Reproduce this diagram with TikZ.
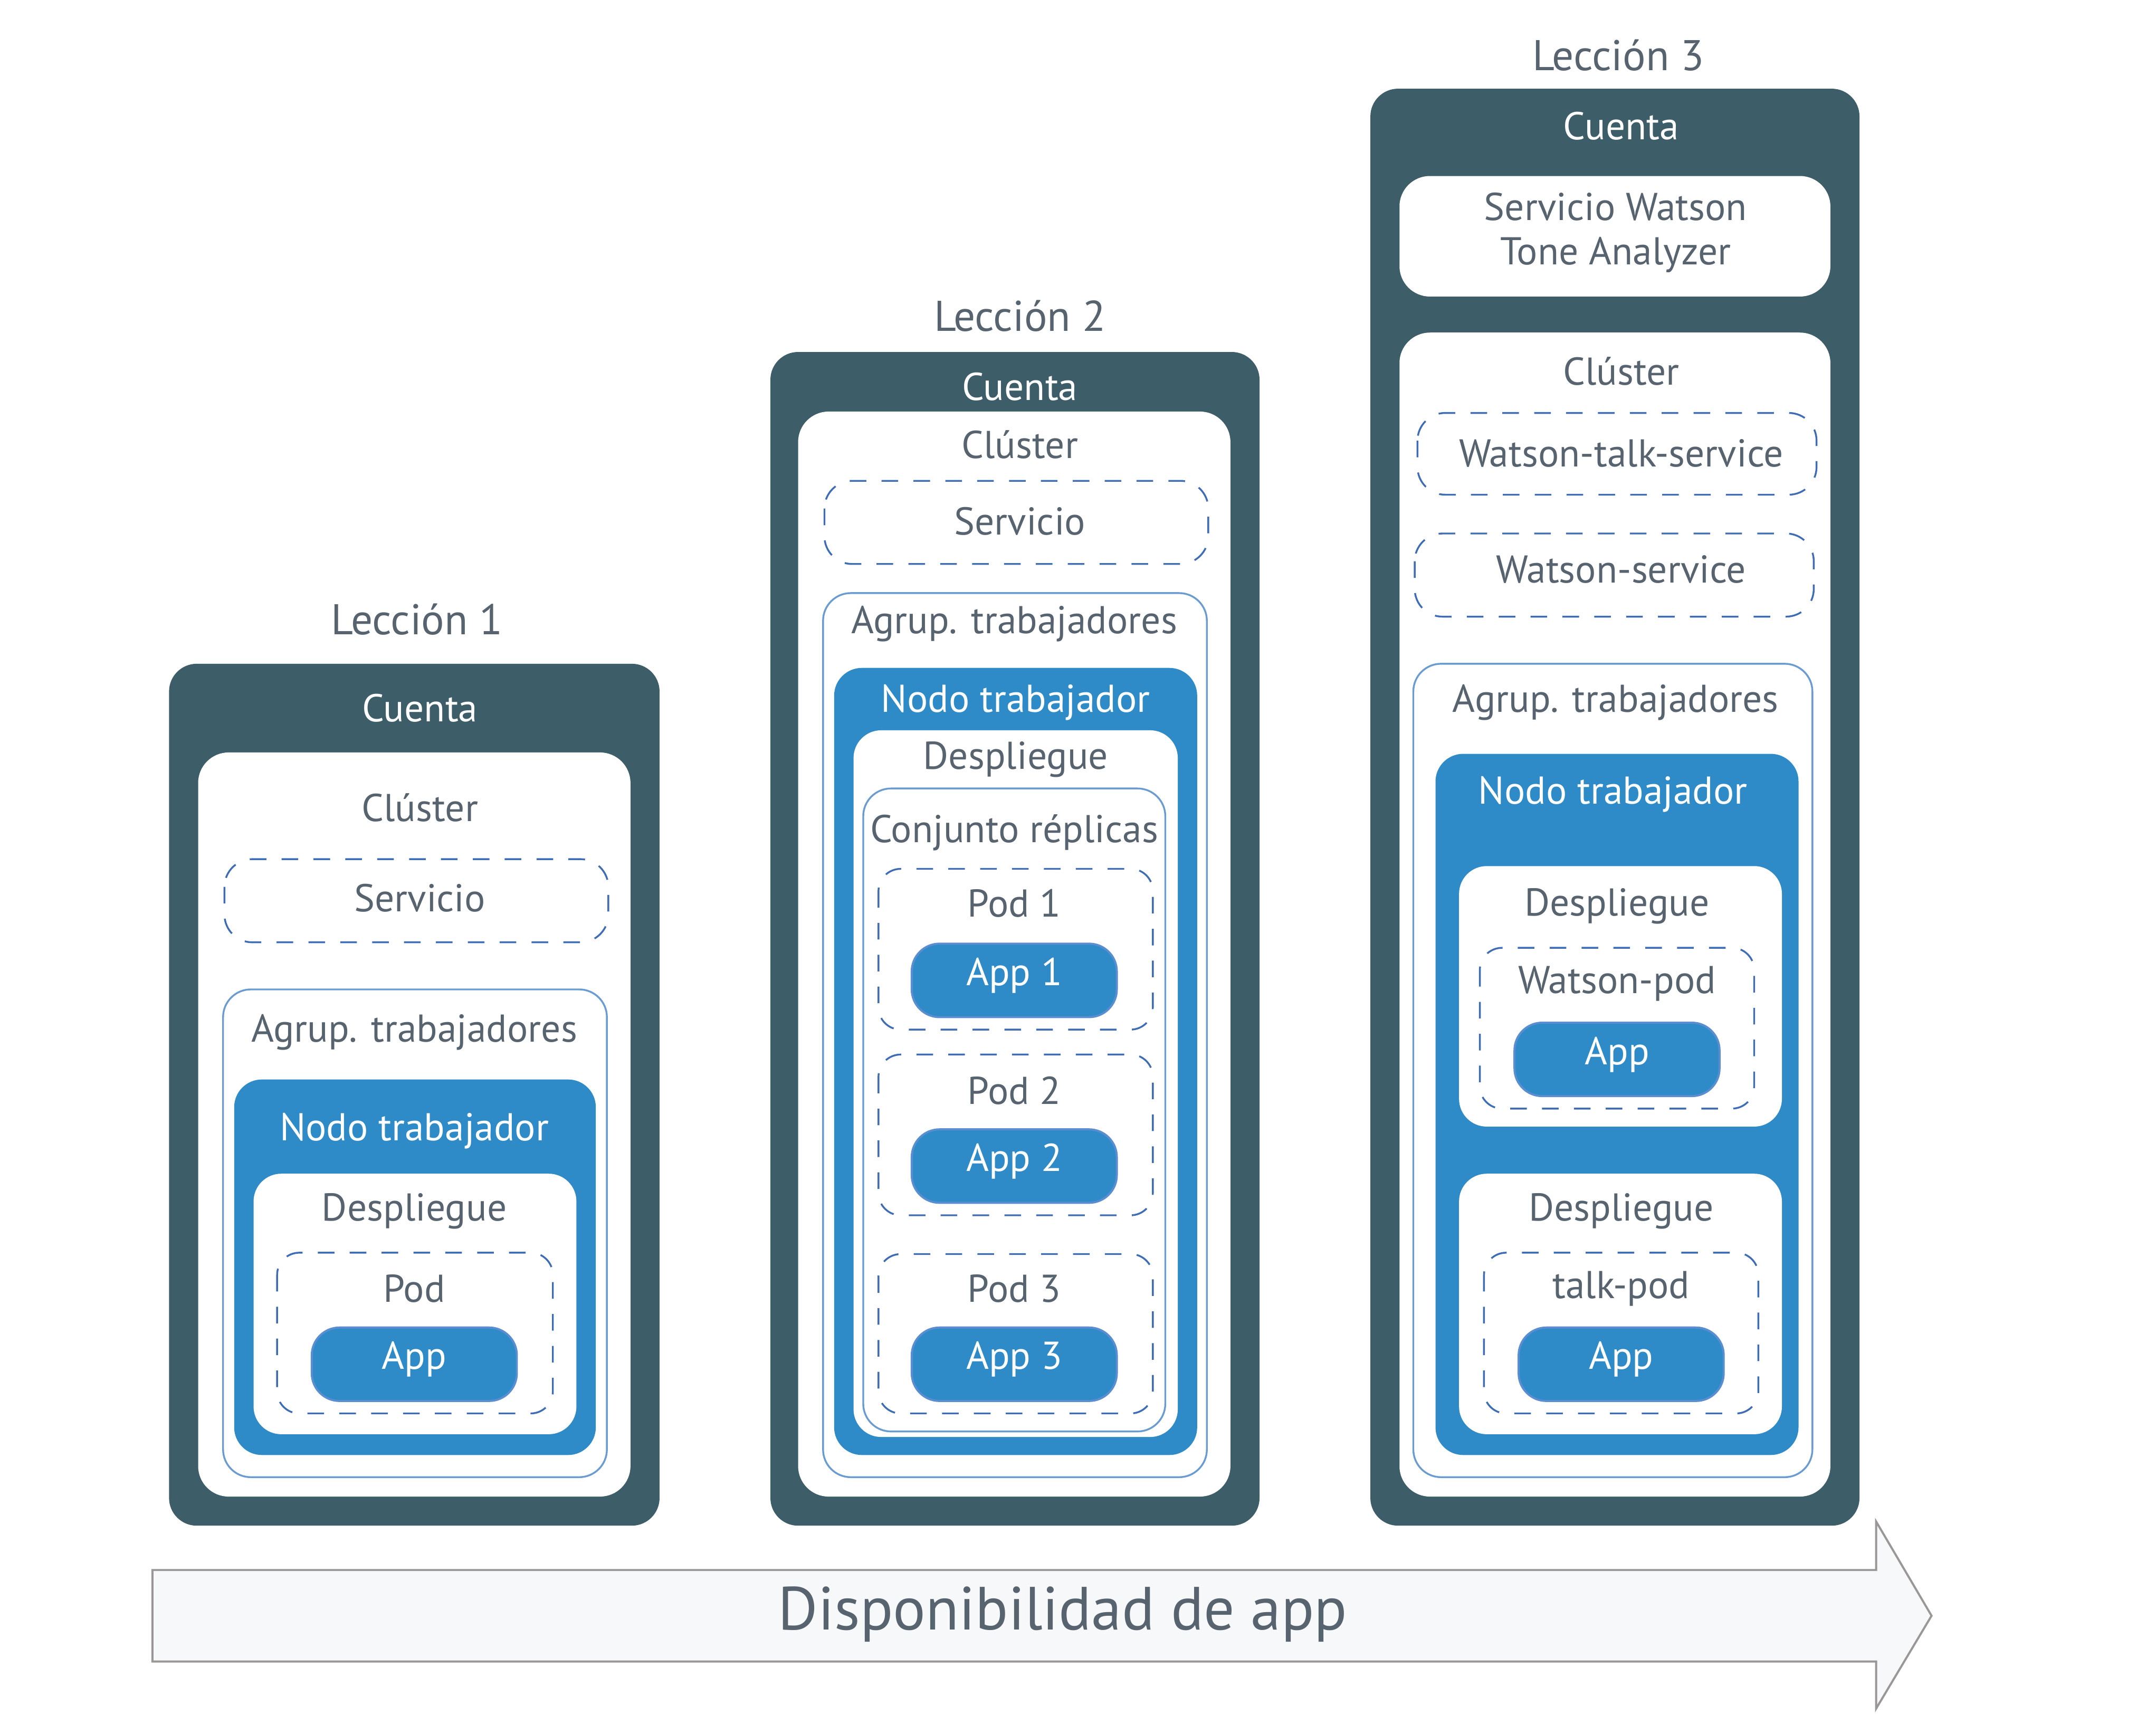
\documentclass[tikz,border=0pt]{standalone}
\usepackage{fontspec}
\setmainfont{PT Sans}
\definecolor{slate}{HTML}{3D5D69}
\definecolor{nodeblue}{HTML}{2E8BC8}
\definecolor{txtgray}{HTML}{57636E}
\definecolor{dashblue}{HTML}{3F6DB5}
\definecolor{lineblue}{HTML}{6A9BD1}
\definecolor{appedge}{HTML}{5B8ED0}
\definecolor{arrowfill}{HTML}{F7F8FA}
\definecolor{arrowgray}{HTML}{9A9796}
\begin{document}
\begin{tikzpicture}[x=1pt,y=-1pt,
  acct/.style={fill=slate, rounded corners=20pt},
  wbox/.style={fill=white, rounded corners=22pt},
  dbox/.style={draw=dashblue, line width=1.3pt, dash pattern=on 12pt off 11pt, rounded corners=20pt},
  pbox/.style={draw=dashblue, line width=1.3pt, dash pattern=on 12pt off 11pt, rounded corners=16pt},
  obox/.style={draw=lineblue, line width=1.3pt, fill=white, rounded corners=20pt},
  nbox/.style={fill=nodeblue, rounded corners=20pt},
  abox/.style={fill=nodeblue, draw=appedge, line width=1.5pt, rounded corners=20pt},
  lbl/.style={text=txtgray, font=\fontsize{28}{32}\selectfont, inner sep=0pt},
  wlbl/.style={text=white, font=\fontsize{28}{32}\selectfont, inner sep=0pt},
  ttl/.style={text=txtgray, font=\fontsize{31}{36}\selectfont, inner sep=0pt},
]
\useasboundingbox (0,0) rectangle (1556,1251);

% ---------- Lesson 1 ----------
\node[ttl] (t1) at (301,447) {Lección 1};
\path[acct] (122,479) rectangle (476,1101);
\node[wlbl] (c1) at (303,511) {Cuenta};
\path[wbox] (143,543) rectangle (455,1080);
\node[lbl] (k1) at (303,583) {Clúster};
\path[dbox] (162,620) rectangle (439,680);
\node[lbl] (s1) at (303,648) {Servicio};
\path[obox] (161,714) rectangle (438,1066);
\node[lbl] (g1) at (299,745) {Agrup. trabajadores};
\path[nbox] (169,779) rectangle (430,1050);
\node[wlbl] (n1) at (299,816) {Nodo trabajador};
\path[wbox, rounded corners=20pt] (183,847) rectangle (416,1035);
\node[lbl] (d1) at (299,874) {Despliegue};
\path[pbox] (200,904) rectangle (399,1020);
\node[lbl] (p1) at (299,930) {Pod};
\path[abox] (225,958) rectangle (373,1011);
\node[wlbl] (a1) at (299,981) {App};

% ---------- Lesson 2 ----------
\node[ttl] (t2) at (736,228) {Lección 2};
\path[acct] (556,254) rectangle (909,1101);
\node[wlbl] (c2) at (736,279) {Cuenta};
\path[wbox] (576,297) rectangle (888,1080);
\node[lbl] (k2) at (736,321) {Clúster};
\path[dbox] (595,347) rectangle (872,407);
\node[lbl] (s2) at (736,376) {Servicio};
\path[obox] (594,428) rectangle (871,1066);
\node[lbl] (g2) at (732,450) {Agrup. trabajadores};
\path[nbox] (602,482) rectangle (864,1050);
\node[wlbl] (n2) at (733,507) {Nodo trabajador};
\path[wbox, rounded corners=20pt] (616,527) rectangle (850,1037);
\node[lbl] (d2) at (733,548) {Despliegue};
\path[obox] (623,569) rectangle (841,1033);
\node[lbl] (r2) at (732,601) {Conjunto réplicas};
\path[pbox] (634,627) rectangle (832,743);
\node[lbl] (p21) at (732,652) {Pod 1};
\path[abox] (658,681) rectangle (806,734);
\node[wlbl] (a21) at (732,704) {App 1};
\path[pbox] (634,761) rectangle (832,877);
\node[lbl] (p22) at (732,787) {Pod 2};
\path[abox] (658,815) rectangle (806,868);
\node[wlbl] (a22) at (732,838) {App 2};
\path[pbox] (634,905) rectangle (832,1020);
\node[lbl] (p23) at (732,930) {Pod 3};
\path[abox] (658,958) rectangle (806,1011);
\node[wlbl] (a23) at (732,981) {App 3};

% ---------- Lesson 3 ----------
\node[ttl] (t3) at (1168,40) {Lección 3};
\path[acct] (989,64) rectangle (1342,1101);
\node[wlbl] (c3) at (1170,91) {Cuenta};
\path[wbox] (1010,127) rectangle (1321,214);
\node[lbl, align=center] (w3) at (1166,168) {Servicio Watson\\Tone Analyzer};
\path[wbox] (1010,240) rectangle (1321,1080);
\node[lbl] (k3) at (1170,268) {Clúster};
\path[dbox] (1023,298) rectangle (1311,357);
\node[lbl] (s31) at (1170,327) {Watson-talk-service};
\path[dbox] (1021,385) rectangle (1309,445);
\node[lbl] (s32) at (1170,411) {Watson-service};
\path[obox] (1020,479) rectangle (1308,1066);
\node[lbl] (g3) at (1166,507) {Agrup. trabajadores};
\path[nbox] (1036,544) rectangle (1298,1050);
\node[wlbl] (n3) at (1164,573) {Nodo trabajador};
\path[wbox, rounded corners=20pt] (1053,625) rectangle (1286,813);
\node[lbl] (d31) at (1167,654) {Despliegue};
\path[pbox] (1068,684) rectangle (1266,800);
\node[lbl] (p31) at (1167,710) {Watson-pod};
\path[abox] (1093,738) rectangle (1241,791);
\node[wlbl] (a31) at (1167,761) {App};
\path[wbox, rounded corners=20pt] (1053,847) rectangle (1286,1035);
\node[lbl] (d32) at (1170,874) {Despliegue};
\path[pbox] (1071,904) rectangle (1269,1020);
\node[lbl] (p32) at (1170,930) {talk-pod};
\path[abox] (1096,958) rectangle (1244,1011);
\node[wlbl] (a32) at (1170,981) {App};

% ---------- Arrow ----------
\draw[fill=arrowfill, draw=arrowgray, line width=1.5pt, line join=miter]
  (110,1133) -- (1354,1133) -- (1354,1098) -- (1394,1166) -- (1354,1233) -- (1354,1199) -- (110,1199) -- cycle;
\node[text=txtgray, font=\fontsize{44}{50}\selectfont, inner sep=0pt] (av) at (767,1165) {Disponibilidad de app};
\end{tikzpicture}
\end{document}
